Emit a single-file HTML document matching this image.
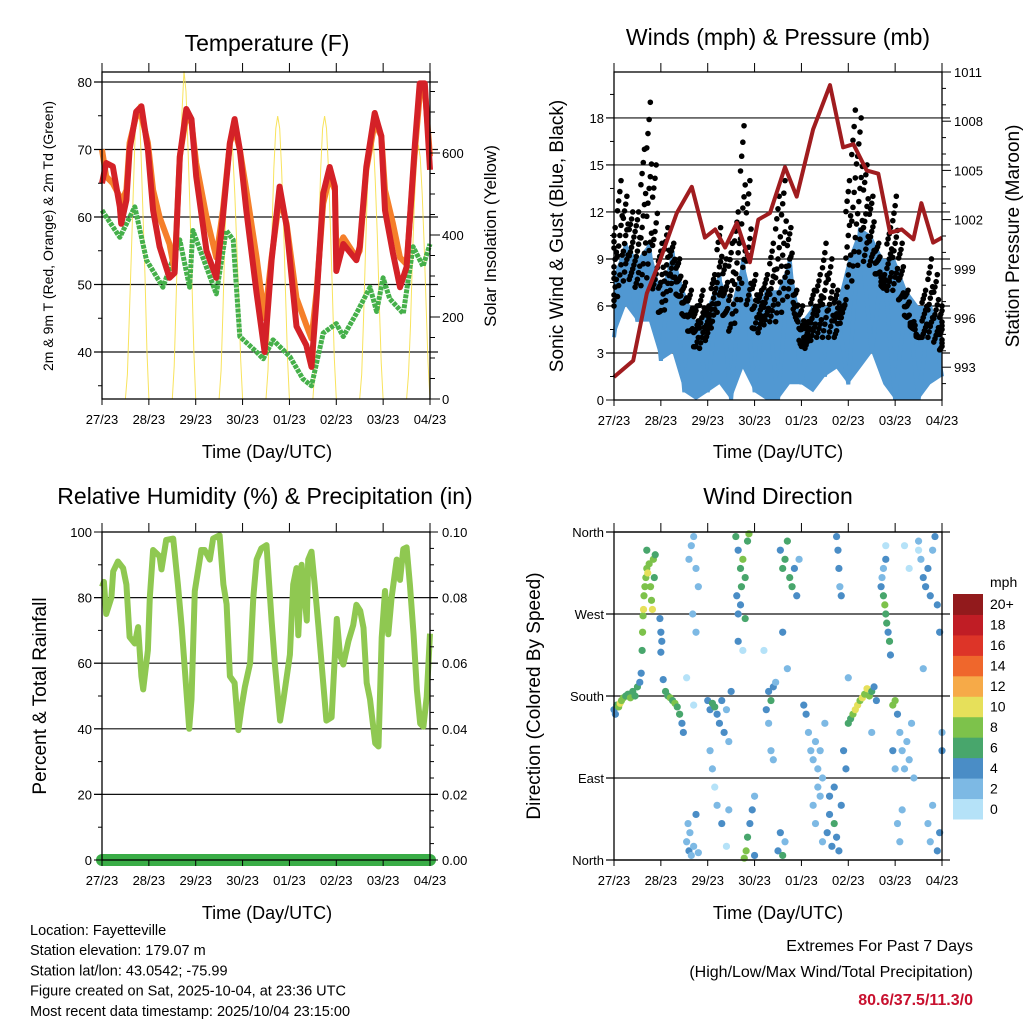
<!DOCTYPE html>
<html><head><meta charset="utf-8"><style>
html,body{margin:0;padding:0;background:#fff;}
svg{display:block;font-family:"Liberation Sans",sans-serif;}
</style></head><body>
<svg id="s" width="1024" height="1024" viewBox="0 0 1024 1024" xmlns="http://www.w3.org/2000/svg"></svg>
<script>
// ---------- DATA ----------
const dayLabels=["27/23","28/23","29/23","30/23","01/23","02/23","03/23","04/23"];
const tempDays=[0,.09,.23,.38,.41,.52,.59,.73,.84,.98,1.09,1.23,1.44,1.55,1.66,1.80,1.91,2.01,2.23,2.44,2.58,2.73,2.83,2.94,3.08,3.30,3.47,3.62,3.79,3.94,4.15,4.36,4.47,4.58,4.72,4.86,4.97,5.00,5.15,5.43,5.50,5.64,5.82,5.96,6.04,6.21,6.36,6.50,6.68,6.78,6.89,7.0];
const temp2m=[65,68,67.5,61.5,59,62.5,70,75.6,76.4,70,61,55.6,51,51.7,68.9,76,74.5,66,55,51,60,71,74.5,70,61,48.7,40,53.6,64.5,58.6,43.8,41,37.8,48,63.5,67.4,64.5,52,56,53.6,55.6,67.4,75.4,72,61,54.6,49.6,52.6,71,79.8,79.8,67];
const temp9m=[70,66,65,63,62,64,71,75,75,71,64,60,56,52,69,75,74,68,60,54,61,71,73,70,64,54,45,54,63,59,48,44,42,49,62,66,64,55,57,54,55,67,74,72,64,59,54,53,70,78,79,69];
const dewDays=[0,.38,.70,.95,1.30,1.66,1.87,1.94,2.44,2.65,2.80,2.94,3.30,3.44,3.65,4.01,4.29,4.47,4.72,5.00,5.15,5.43,5.72,5.86,6.00,6.14,6.43,6.64,6.85,7.0];
const dewpoint=[61,57,61.5,53.6,49.6,56.6,49.6,58,48.6,58,56.6,42.3,40,39,41.8,39.3,36,35,42.8,44.2,42.3,45.7,49.6,46,51,47.9,45.7,55.6,52.7,56];
const solarHours=[11,12,13,14,15,16,17,18,19,20,21,22,23];
const solarDay0=[0,60,200,350,500,650,700,720,600,450,300,120,0];
const solarDay1=[0,80,250,420,580,700,800,750,620,470,300,120,0];
const solarDay2=[0,70,220,400,550,640,660,600,500,380,250,100,0];
const solarDay3=[0,70,230,400,560,660,690,660,560,420,260,100,0];
const solarDay4=[0,70,230,400,560,660,690,660,560,420,260,100,0];
const solarDay5=[0,60,200,370,520,630,660,630,530,400,240,90,0];
const solarDay6=[0,60,180,340,480,580,620,590,500,380,230,90,0];

const presDays=[0,.41,.70,.98,1.34,1.66,1.94,2.16,2.37,2.62,2.90,3.08,3.33,3.65,3.90,4.25,4.61,4.89,5.11,5.39,5.64,5.89,6.14,6.39,6.56,6.81,7.0];
const pressure=[992.4,993.4,997.5,999.5,1002.4,1004,1000.9,1001.4,1000.3,1001.8,999.4,1002,1002.4,1005.2,1003.4,1007.5,1010.2,1006.4,1006.6,1005,1004.8,1001.2,1001.4,1000.8,1003,1000.6,1000.9];
const windDays=[0,.25,.5,.75,1,1.25,1.5,1.75,2,2.25,2.5,2.75,3,3.25,3.5,3.75,4,4.25,4.5,4.75,5,5.25,5.5,5.75,6,6.25,6.5,6.75,7];
const windHigh=[8,10,9,10,7,9.5,7,5,6,8,6,9,6,7,7,9,5,6,6,6,9,11,10.5,9,9,7,6,6,5];
const windLow=[4,6,5,5,2.5,3,.5,0,.5,1,0,2,.5,0,0,1,1,.5,1.5,2,1,2,3,1,0,0,0,1,1.5];
const gustDays=[0,.125,.25,.375,.5,.625,.75,.875,1,1.125,1.25,1.375,1.5,1.625,1.75,1.875,2,2.125,2.25,2.375,2.5,2.625,2.75,2.875,3,3.125,3.25,3.375,3.5,3.625,3.75,3.875,4,4.125,4.25,4.375,4.5,4.625,4.75,4.875,5,5.125,5.25,5.375,5.5,5.625,5.75,5.875,6,6.125,6.25,6.375,6.5,6.625,6.75,6.875,7];
const gust=[11,14,13,12,12,16,19,15,10,11,10,9,7.5,7,6,7,6,8,11,9,10,12,17.5,14,8,7,8,10,13,14,11,7,6,5,7,8,10,9,7,6,14,18.5,18,15,13,10,8,11,13,10,7,5,4,7,9,8,6];

const rhDays=[0,.04,.09,.20,.24,.34,.45,.52,.59,.70,.77,.84,.88,.98,1.02,1.09,1.23,1.27,1.37,1.52,1.62,1.70,1.80,1.86,1.91,1.98,2.12,2.19,2.30,2.37,2.51,2.59,2.66,2.73,2.83,2.91,2.98,3.05,3.16,3.23,3.30,3.40,3.51,3.62,3.69,3.80,3.87,4.01,4.08,4.15,4.19,4.26,4.37,4.40,4.47,4.54,4.62,4.72,4.79,4.90,4.97,5.01,5.08,5.15,5.26,5.36,5.43,5.51,5.58,5.65,5.72,5.83,5.90,5.97,6.04,6.11,6.18,6.29,6.36,6.43,6.50,6.57,6.65,6.72,6.79,6.86,6.93,7.0];
const rh=[83.3,84.8,75,80,88,91,89,84,68,66,71,56,52,64,80,94.5,92.6,88.6,97.6,98,84,71,52,40,49,82,94.5,94.5,91.6,98,99,84,78,56,54,39.6,46.7,52.8,60,80,91.6,95,96,73,59.6,42.5,48.6,62.6,84,89,68.5,90,73,91.6,94,84,71,54,42.5,43.5,62.5,73.5,62.5,59.6,66.8,71.6,77.8,76,70.8,54,49,35.6,34.6,67.8,82,68.8,80,91.6,85.4,94.8,95.3,84,68.7,51.8,41.6,40.6,49.7,69];
const precipDays=[0,7];
const precip=[0,0];

// wind direction obs: [day, direction deg, speed mph]
const dirObs=[[0,165,4],[.03,160,5],[.06,170,6],[.1,168,9],[.13,172,10],[.16,175,9],[.2,178,8],[.25,180,6],[.3,182,7],[.35,178,8],[.4,185,6],[.45,180,6],[.5,190,6],[.55,195,5],
[.58,205,5],[.6,230,7],[.61,250,8],[.62,268,9],[.63,275,10],[.64,290,8],[.66,300,8],[.68,310,8],[.7,320,8],[.72,315,10],[.75,325,8],[.78,300,8],[.8,285,9],[.82,275,10],[.84,330,8],[.86,310,7],[.88,335,7],[.7,340,6],
[.98,265,4],[1,250,4],[1.02,240,4],[1,228,4],
[1.05,198,5],[1.1,185,7],[1.15,180,7],[1.2,178,8],[1.25,175,7],[1.3,172,8],[1.35,168,7],[1.4,160,6],[1.45,150,4],[1.48,140,4],
[1.55,20,2],[1.58,40,3],[1.6,10,4],[1.62,30,2],[1.65,5,3],[1.7,15,2],[1.75,50,4],[1.8,8,3],[1.6,330,2],[1.65,345,2],[1.7,355,3],[1.75,320,2],[1.8,300,2],[1.68,270,2],[1.75,250,2],[1.55,200,1],[1.7,170,1],
[2,175,4],[2.05,165,5],[2.1,172,7],[2.15,168,7],[2.2,160,4],[2.25,150,4],[2.3,175,4],[2.35,140,4],[2.4,165,3],[2.45,130,3],[2.5,185,4],[2.05,120,2],[2.1,100,2],[2.15,80,1],[2.2,60,2],[2.3,40,4],[2.4,15,1],[2.45,55,2],
[2.6,355,6],[2.65,340,4],[2.7,320,6],[2.72,300,7],[2.75,330,8],[2.8,310,6],[2.85,350,7],[2.88,358,8],[2.62,290,4],[2.65,270,4],[2.7,280,5],[2.8,265,6],[2.65,240,4],[2.78,2,8],[2.82,10,8],[2.85,25,6],[2.9,40,5],[2.95,55,4],[3,70,3],[3,5,4],[2.75,230,1],
[3.25,165,4],[3.3,185,4],[3.35,175,6],[3.4,190,4],[3.45,195,3],[3.3,150,2],[3.35,120,2],[3.4,110,2],[3.2,230,1],[3.5,10,4],[3.55,30,5],[3.6,5,6],[3.65,20,3],[3.55,340,4],[3.6,320,6],[3.65,330,7],[3.7,350,6],[3.75,310,6],[3.8,300,7],[3.85,320,5],[3.9,290,4],[3.95,330,3],[3.6,250,4],[3.7,210,2],
[4.05,170,4],[4.1,160,4],[4.15,140,3],[4.2,120,2],[4.25,110,2],[4.3,130,2],[4.35,100,2],[4.4,120,2],[4.45,90,2],[4.5,150,3],[4.25,60,3],[4.3,40,2],[4.35,80,3],[4.4,70,2],[4.45,20,2],[4.55,30,4],[4.6,50,4],[4.65,15,5],[4.7,40,6],[4.75,25,4],[4.8,10,4],[4.85,60,4],[4.6,70,4],[4.7,80,4],
[4.75,355,4],[4.78,340,4],[4.8,320,4],[4.82,300,3],[4.85,290,4],[4.9,120,4],[4.95,100,4],[5,200,2],
[5,150,6],[5.05,155,7],[5.1,160,9],[5.15,165,10],[5.2,170,10],[5.25,175,9],[5.3,178,10],[5.35,182,9],[5.4,188,10],[5.45,180,8],[5.5,185,7],[5.55,190,5],[5.6,175,4],[5.5,140,3],
[5.7,300,4],[5.75,290,6],[5.78,280,8],[5.8,270,6],[5.82,260,7],[5.85,250,4],[5.88,240,6],[5.9,225,4],[5.75,320,3],[5.8,330,4],[5.72,310,3],[5.8,345,1],
[5.95,170,9],[6,175,8],[6.05,160,4],[6.1,140,3],[6.15,120,2],[6.2,100,2],[6.25,130,2],[6.3,110,2],[6.35,150,3],[6.4,90,2],[5.95,120,4],[6,100,3],[6.05,40,3],[6.1,20,2],[6.15,55,2],
[6.5,350,2],[6.55,330,3],[6.6,310,4],[6.65,300,4],[6.7,320,5],[6.75,290,4],[6.8,340,3],[6.85,355,4],[6.9,280,4],[6.95,250,4],[6.6,210,2],[6.7,40,2],[6.75,20,3],[6.8,60,3],[6.9,10,4],[6.95,30,4],[7,120,4],[7,140,3],[6.5,340,1],[6.3,320,1],[6.2,345,1]];
const speedLabels=["0","2","4","6","8","10","12","14","16","18","20+"];
const speedColors=["#b5e2f8","#7db9e4","#4a8dc6","#48a66c","#7dc24b","#e6e05a","#f6aa48","#ef672c","#dd3428","#c01d25","#921a1c"];

// ---------- HELPERS ----------
const S=document.getElementById('s');
const NS="http://www.w3.org/2000/svg";
function mk(tag,attrs,parent){const e=document.createElementNS(NS,tag);for(const k in attrs)e.setAttribute(k,attrs[k]);(parent||S).appendChild(e);return e;}
function txt(x,y,s,size,anchor,extra){const e=mk('text',Object.assign({x:x,y:y,'font-size':size,'text-anchor':anchor||'middle',fill:'#000'},extra||{}));e.textContent=s;return e;}
function interp(xs,ys,x){for(let i=1;i<xs.length;i++){if(x<=xs[i]){const f=(x-xs[i-1])/(xs[i]-xs[i-1]);return ys[i-1]+f*(ys[i]-ys[i-1]);}}return ys[ys.length-1];}
function path(xs,ys,fx,fy){return xs.map((d,i)=>(i?'L':'M')+fx(d).toFixed(1)+','+fy(ys[i]).toFixed(1)).join('');}

// axis functions
const XL=d=>102+d*(328/7), XR=d=>614+d*(328/7);
const YT=v=>82+(80-v)*6.75, YS=v=>399-v*0.41;
const YW=v=>400-v*15.67, YP=v=>400-(v-991)*16.4;
const YR=v=>860-v*3.28, YQ=v=>860-v*3280;
const YD=v=>860-v*(328/360);

function frame(x0,x1,y0,y1,name){
  const r=mk('rect',{x:x0,y:y0,width:x1-x0,height:y1-y0,fill:'none',stroke:'#000','stroke-width':1.3});
  
  
}
function xAxis(fx,y0,y1,name){
  const g=mk('g',{});
  
  
  dayLabels.forEach((l,i)=>{
    const x=fx(i);
    mk('line',{x1:x,x2:x,y1:y1,y2:y1+6,stroke:'#000','stroke-width':1},g);
    mk('line',{x1:x,x2:x,y1:y0,y2:y0-9,stroke:'#000','stroke-width':1},g);
    const t=txt(x,y1+25,l,13);
    g.appendChild(t);
  });
}
function grid(vals,fy,x0,x1,name){
  const g=mk('g',{});
  
  
  vals.forEach(v=>mk('line',{x1:x0,x2:x1,y1:fy(v),y2:fy(v),stroke:'#111','stroke-width':1.2},g));
}
function ticksL(vals,fy,x,len,labels,name,size){
  const g=mk('g',{});
  
  
  vals.forEach((v,i)=>{mk('line',{x1:x,x2:x-len,y1:fy(v),y2:fy(v),stroke:'#000','stroke-width':1},g);
    if(labels&&labels[i]!=null){const t=txt(x-10,fy(v)+5,labels[i],size||13,'end');g.appendChild(t);}});
}
function ticksR(vals,fy,x,len,labels,name,size){
  const g=mk('g',{});
  
  
  vals.forEach((v,i)=>{mk('line',{x1:x,x2:x+len,y1:fy(v),y2:fy(v),stroke:'#000','stroke-width':1},g);
    if(labels&&labels[i]!=null){const t=txt(x+12,fy(v)+5,labels[i],size||13,'start');g.appendChild(t);}});
}
function vtitle(x,y,s,size,name){
  const t=txt(0,0,s,size,'middle',{transform:`translate(${x},${y}) rotate(-90)`});
  
  
}
function title(x,y,s,size,name){
  const t=txt(x,y,s,size);
  
  
}

// ---------- PANEL 1: TEMPERATURE ----------
title(267,51,"Temperature (F)",23,"temperature-title");
grid([40,50,60,70,80],YT,94,438,"temperature-gridlines");
const solarAll=[solarDay0,solarDay1,solarDay2,solarDay3,solarDay4,solarDay5,solarDay6];
solarAll.forEach((arr,k)=>{
  const days=solarHours.map(h=>k+1+(h-23)/24);
  const p=mk('path',{d:path(days,arr,XL,YS),fill:'none',stroke:'#f7e04a','stroke-width':1,'stroke-opacity':0.9});
  
  
});
let p1=mk('path',{d:path(dewDays,dewpoint,XL,YT),fill:'none',stroke:'#45b04a','stroke-width':5,'stroke-linejoin':'round','stroke-dasharray':'4 1'});


let p2=mk('path',{d:path(tempDays,temp9m,XL,YT),fill:'none',stroke:'#f57f2a','stroke-width':6,'stroke-linejoin':'round'});


let p3=mk('path',{d:path(tempDays,temp2m,XL,YT),fill:'none',stroke:'#d42127','stroke-width':6,'stroke-linejoin':'round'});


frame(102,430,72,399,"temperature-frame");
ticksL([40,50,60,70,80],YT,102,8,["40","50","60","70","80"],"temperature-y-axis");
ticksL([35,45,55,65,75],YT,102,4,null,"temperature-minor-ticks");
ticksR([0,200,400,600],YS,430,10,["0","200","400","600"],"solar-y-axis");
ticksR([50,100,150,250,300,350,450,500,550,650,700,750],YS,430,5,null,"solar-minor-ticks");
xAxis(XL,72,399,"temperature-x-axis");
title(267,458,"Time (Day/UTC)",18,"temperature-x-title");
vtitle(53,236,"2m & 9m T (Red, Orange) & 2m Td (Green)",14,"temperature-y-title");
vtitle(496,236,"Solar Insolation (Yellow)",17,"solar-y-title");

// ---------- PANEL 2: WIND & PRESSURE ----------
title(778,45,"Winds (mph) & Pressure (mb)",23,"winds-title");
grid([3,6,9,12,15,18],YW,606,950,"winds-gridlines");
let band=windDays.map(d=>XR(d).toFixed(1)+','+YW(interp(windDays,windHigh,d)).toFixed(1)).join(' ')+' '+windDays.slice().reverse().map(d=>XR(d).toFixed(1)+','+YW(interp(windDays,windLow,d)).toFixed(1)).join(' ');
let wb=mk('polygon',{points:band,fill:'#5198d2'});


let wl=mk('path',{d:windDays.map((d,i)=>(i?'L':'M')+XR(d).toFixed(1)+','+YW(i%2?windHigh[i]:windLow[i]).toFixed(1)).join(''),fill:'none',stroke:'#5198d2','stroke-width':4});


const gg=mk('g',{fill:'#000'});


const fr=[0,.07,.14,.21,.28,.35,.42,.5,.58,.66,.74,.82,.9,1];
gustDays.forEach((d,i)=>{
  fr.forEach((f,j)=>{
    const dd=Math.min(7,Math.max(0,d+((j%5)-2)*0.025));
    const base=interp(windDays,windHigh,dd)-2;
    const v=base+(gust[i]-base)*f;
    mk('circle',{cx:XR(dd),cy:YW(v),r:2.8},gg);
  });
});
let pp=mk('path',{d:path(presDays,pressure,XR,YP),fill:'none',stroke:'#a01c1f','stroke-width':4,'stroke-linejoin':'round'});


frame(614,942,72,400,"winds-frame");
ticksL([0,3,6,9,12,15,18],YW,614,8,["0","3","6","9","12","15","18"],"wind-y-axis");
ticksL([1.5,4.5,7.5,10.5,13.5,16.5,19.5],YW,614,4,null,"wind-minor-ticks");
ticksR([993,996,999,1002,1005,1008,1011],YP,942,9,["993","996","999","1002","1005","1008","1011"],"pressure-y-axis");
ticksR([992,994,995,997,998,1000,1001,1003,1004,1006,1007,1009,1010],YP,942,4,null,"pressure-minor-ticks");
xAxis(XR,72,400,"winds-x-axis");
title(778,458,"Time (Day/UTC)",18,"winds-x-title");
vtitle(563,236,"Sonic Wind & Gust (Blue, Black)",19,"wind-y-title");
vtitle(1019,236,"Station Pressure (Maroon)",19,"pressure-y-title");

// ---------- PANEL 3: RH & PRECIP ----------
title(265,504,"Relative Humidity (%) & Precipitation (in)",23,"humidity-title");
grid([20,40,60,80],YR,94,438,"humidity-gridlines");
let rp=mk('path',{d:path(rhDays,rh,XL,YR),fill:'none',stroke:'#8fc851','stroke-width':6,'stroke-linejoin':'round'});


let pr=mk('path',{d:path(precipDays,precip,XL,YQ),fill:'none',stroke:'#3aad47','stroke-width':12,'stroke-linecap':'round'});


frame(102,430,532,860,"humidity-frame");
ticksL([0,20,40,60,80,100],YR,102,8,["0","20","40","60","80","100"],"humidity-y-axis");
ticksL([10,30,50,70,90],YR,102,4,null,"humidity-minor-ticks");
ticksR([0,.02,.04,.06,.08,.10],YQ,430,8,["0.00","0.02","0.04","0.06","0.08","0.10"],"precip-y-axis");
ticksR([.005,.01,.015,.025,.03,.035,.045,.05,.055,.065,.07,.075,.085,.09,.095],YQ,430,4,null,"precip-minor-ticks");
xAxis(XL,532,860,"humidity-x-axis");
title(267,919,"Time (Day/UTC)",18,"humidity-x-title");
vtitle(46,696,"Percent & Total Rainfall",19,"humidity-y-title");

// ---------- PANEL 4: WIND DIRECTION ----------
title(778,504,"Wind Direction",23,"wind-direction-title");
grid([0,90,180,270,360],YD,606,950,"direction-gridlines");
const dg=mk('g',{});


dirObs.forEach(o=>{
  const bin=Math.min(10,Math.floor(o[2]/2));
  mk('circle',{cx:XR(o[0]),cy:YD(o[1]),r:3.6,fill:speedColors[bin]},dg);
});
frame(614,942,532,860,"direction-frame");
ticksL([0,90,180,270,360],YD,614,8,["North","East","South","West","North"],"direction-y-axis");
xAxis(XR,532,860,"direction-x-axis");
title(778,919,"Time (Day/UTC)",18,"direction-x-title");
vtitle(540,696,"Direction (Colored By Speed)",19,"direction-y-title");
// colorbar
const cb=mk('g',{});


speedColors.forEach((c,i)=>{
  const h=225/11, y=819-(i+1)*h;
  mk('rect',{x:953,y:y,width:30,height:h+0.5,fill:c},cb);
  const t=txt(990,y+h/2+5,speedLabels[i],14,'start');
  cb.appendChild(t);
});
const mph=txt(990,587,"mph",14,'start');



// ---------- FOOTER ----------
const info=["Location: Fayetteville","Station elevation: 179.07 m","Station lat/lon: 43.0542; -75.99","Figure created on Sat, 2025-10-04, at 23:36 UTC","Most recent data timestamp: 2025/10/04 23:15:00"];
const ig=mk('g',{});


info.forEach((s,i)=>{const t=txt(30,935+i*20.2,s,14.5,'start');ig.appendChild(t);});
const e1=txt(973,951,"Extremes For Past 7 Days",16,'end');


const e2=txt(973,977,"(High/Low/Max Wind/Total Precipitation)",16,'end');


const e3=txt(973,1005,"80.6/37.5/11.3/0",16,'end',{fill:'#c8102e','font-weight':'bold'});


</script>
</body></html>
